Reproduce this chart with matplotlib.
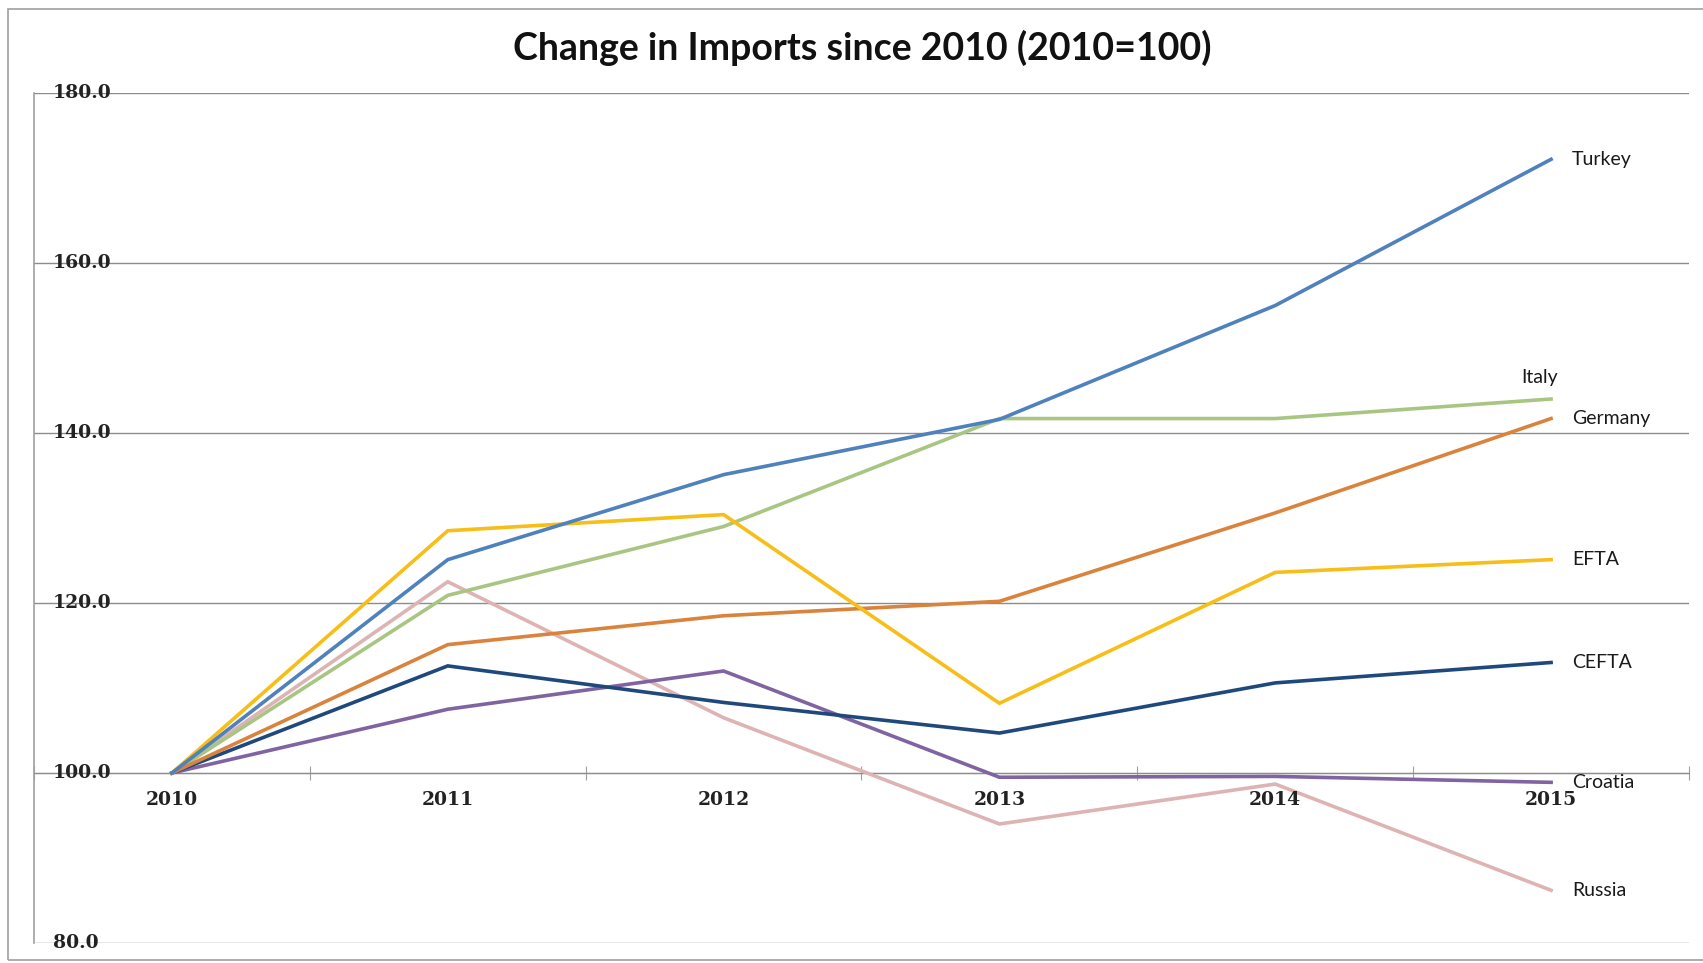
import numpy as np
import matplotlib
matplotlib.use('Agg')
import matplotlib.pyplot as plt
from matplotlib.patches import Rectangle
import matplotlib.transforms as mtransforms

# import index per partner, 2010 = 100
years = ['2010', '2011', '2012', '2013', '2014', '2015']
turkey = [100.0, 125.1, 135.1, 141.6, 155.0, 172.2]
italy = [100.0, 120.9, 129.0, 141.7, 141.7, 144.0]
germany = [100.0, 115.1, 118.5, 120.2, 130.6, 141.7]
efta = [100.0, 128.5, 130.4, 108.2, 123.6, 125.1]
cefta = [100.0, 112.6, 108.3, 104.7, 110.6, 113.0]
croatia = [100.0, 107.5, 112.0, 99.5, 99.6, 98.9]
russia = [100.0, 122.5, 106.5, 94.0, 98.7, 86.2]
y_ticks = [80, 100, 120, 140, 160, 180]

series = [
    ('Russia', russia, '#DDB4B3'),
    ('Croatia', croatia, '#8064A2'),
    ('CEFTA', cefta, '#1F497D'),
    ('Italy', italy, '#A8C682'),
    ('Germany', germany, '#D9833C'),
    ('EFTA', efta, '#F7BE17'),
    ('Turkey', turkey, '#4F81BD'),
]

W, H = 1703, 963
fig = plt.figure(figsize=(W / 100, H / 100), dpi=100)
fig.patches.append(Rectangle((8 / W, 3 / H), 1.0, 1 - 12 / H, transform=fig.transFigure,
                             fill=False, edgecolor='#A0A0A0', lw=1.2))

ax = fig.add_axes([34 / W, 1 - 943 / H, (1689 - 34) / W, (943 - 93) / H])
x = np.arange(len(years))
for name, vals, col in series:
    ax.plot(x, vals, color=col, lw=2.6, solid_joinstyle='miter', zorder=3)

ax.set_xlim(-0.5, len(years) - 0.5)
ax.set_ylim(80, 180)

# gridlines and frame, Excel style
for v in y_ticks:
    ax.axhline(v, color='#8C8C8C', lw=1.0, zorder=1)
for s in ('top', 'right', 'bottom'):
    ax.spines[s].set_visible(False)
ax.spines['left'].set_color('#A0A0A0')
ax.spines['left'].set_linewidth(1.2)
ax.set_yticks([])

# category axis crosses at 100, ticks between categories
ax.set_xticks(np.arange(-0.5, len(years)), labels=[])
ax.tick_params(axis='x', which='major', direction='inout', length=10, color='#A0A0A0')
ax.xaxis.set_ticks_position('bottom')
ax.spines['bottom'].set_position(('data', 100))
ax.spines['bottom'].set_visible(True)
ax.spines['bottom'].set_color('#8C8C8C')

tick_font = dict(family='DejaVu Serif', fontweight='bold', fontsize=13.5, color='#222222')
trans_y = mtransforms.blended_transform_factory(ax.transAxes, ax.transData)
for v in y_ticks:
    ax.text(19 / 1655, v, f'{v:.1f}', transform=trans_y, ha='left', va='center', **tick_font)

px = mtransforms.offset_copy
for i, yr in enumerate(years):
    ax.text(i, 100, yr, transform=px(ax.transData, fig=fig, x=0, y=-27, units='dots'),
            ha='center', va='center', **tick_font)

# series names at the line ends
lab_font = dict(family='Lato', fontsize=14, color='#1A1A1A', va='center')
for name, vals, col in series:
    if name == 'Italy':
        ax.text(x[-1], vals[-1], name, ha='right',
                transform=px(ax.transData, fig=fig, x=7, y=22, units='dots'), **lab_font)
    else:
        ax.text(x[-1], vals[-1], name, ha='left',
                transform=px(ax.transData, fig=fig, x=21, y=0, units='dots'), **lab_font)

fig.text(862 / W, 1 - 48 / H, 'Change in Imports since 2010 (2010=100)', ha='center', va='center',
         family='Lato', fontweight='bold', fontsize=27, color='#111111')

fig.savefig('out.png', dpi=100)
